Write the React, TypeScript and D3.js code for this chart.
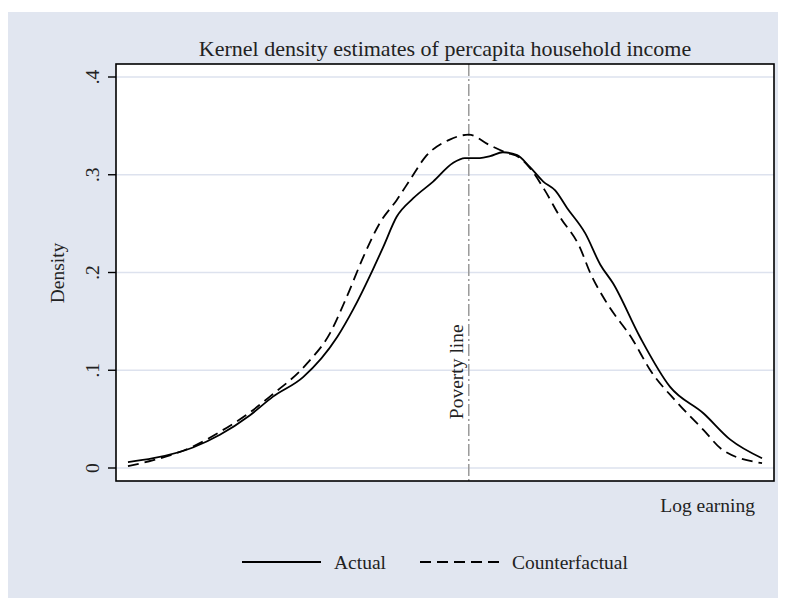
import React, { useEffect, useRef } from "react";
import * as d3 from "d3";

// log earning grid (x) and kernel density values
const actualX = [4.0, 4.32, 4.82, 5.16, 5.54, 5.83, 6.21, 6.64, 6.84, 7.09, 7.22, 7.39, 7.6, 7.85, 8.1, 8.25, 8.44, 8.57, 8.73, 8.91, 9.07, 9.24, 9.39, 9.54, 9.77, 9.96, 10.12, 10.46, 10.84, 11.26, 11.6, 12.0];
const actualY = [0.006, 0.010, 0.021, 0.034, 0.054, 0.073, 0.093, 0.134, 0.162, 0.203, 0.226, 0.257, 0.276, 0.293, 0.312, 0.317, 0.317, 0.319, 0.323, 0.320, 0.308, 0.293, 0.284, 0.266, 0.240, 0.208, 0.189, 0.134, 0.083, 0.056, 0.029, 0.010];

const counterX = [4.0, 4.32, 4.82, 5.16, 5.54, 5.79, 6.26, 6.55, 6.76, 6.97, 7.18, 7.39, 7.56, 7.75, 8.06, 8.3, 8.57, 8.76, 8.95, 9.07, 9.26, 9.45, 9.7, 9.83, 10.04, 10.37, 10.59, 10.93, 11.26, 11.51, 12.0];
const counterY = [0.002, 0.008, 0.022, 0.037, 0.057, 0.073, 0.107, 0.138, 0.175, 0.216, 0.251, 0.274, 0.295, 0.318, 0.336, 0.341, 0.330, 0.323, 0.317, 0.307, 0.284, 0.257, 0.226, 0.200, 0.169, 0.131, 0.100, 0.067, 0.039, 0.018, 0.005];

const yTicks = [0, 0.1, 0.2, 0.3, 0.4];
const yTickLabels = ["0", ".1", ".2", ".3", ".4"];
const povertyLine = 8.3;

const seriesNames = ["Actual", "Counterfactual"];

const FONT = "'Liberation Serif', 'Times New Roman', serif";

export default function App() {
  const ref = useRef<SVGSVGElement>(null);

  useEffect(() => {
    const svg = d3.select(ref.current);
    svg.selectAll("*").remove();

    const left = 116, right = 774, top = 64, bottom = 481;

    svg.append("rect")
      .attr("x", 8).attr("y", 12)
      .attr("width", 770).attr("height", 590)
      .attr("fill", "#e1e6f0");

    const x = d3.scaleLinear().domain([3.849, 12.151]).range([left, right]);
    const y = d3.scaleLinear().domain([0, 0.4]).range([468, 77]);

    svg.append("rect")
      .attr("x", left).attr("y", top)
      .attr("width", right - left).attr("height", bottom - top)
      .attr("fill", "#ffffff");

    // gridlines
    svg.append("g")
      .selectAll("line")
      .data(yTicks)
      .join("line")
      .attr("x1", left).attr("x2", right)
      .attr("y1", (d) => y(d)).attr("y2", (d) => y(d))
      .attr("stroke", "#dde2ee")
      .attr("stroke-width", 1.6);

    // poverty line
    svg.append("line")
      .attr("x1", x(povertyLine)).attr("x2", x(povertyLine))
      .attr("y1", top).attr("y2", bottom)
      .attr("stroke", "#9a9a9a")
      .attr("stroke-width", 1.5)
      .attr("stroke-dasharray", "12,3,2,3");

    svg.append("text")
      .attr("transform", `translate(${x(povertyLine) - 6},${y(0.05)}) rotate(-90)`)
      .attr("font-family", FONT)
      .attr("font-size", 19.5)
      .attr("fill", "#222")
      .text("Poverty line");

    const line = d3.line<[number, number]>()
      .x((d) => x(d[0]))
      .y((d) => y(d[1]))
      .curve(d3.curveMonotoneX);

    svg.append("path")
      .datum(d3.zip(actualX, actualY) as [number, number][])
      .attr("d", line)
      .attr("fill", "none")
      .attr("stroke", "#000")
      .attr("stroke-width", 1.8);

    svg.append("path")
      .datum(d3.zip(counterX, counterY) as [number, number][])
      .attr("d", line)
      .attr("fill", "none")
      .attr("stroke", "#000")
      .attr("stroke-width", 1.8)
      .attr("stroke-dasharray", "11,6");

    // plot border
    svg.append("rect")
      .attr("x", left).attr("y", top)
      .attr("width", right - left).attr("height", bottom - top)
      .attr("fill", "none")
      .attr("stroke", "#000")
      .attr("stroke-width", 1.6);

    // y axis ticks
    const yAxis = svg.append("g");
    yAxis.selectAll("line")
      .data(yTicks)
      .join("line")
      .attr("x1", 108).attr("x2", left)
      .attr("y1", (d) => y(d)).attr("y2", (d) => y(d))
      .attr("stroke", "#000")
      .attr("stroke-width", 1.4);
    yAxis.selectAll("text")
      .data(yTicks)
      .join("text")
      .attr("transform", (d) => `translate(99,${y(d)}) rotate(-90)`)
      .attr("text-anchor", "middle")
      .attr("font-family", FONT)
      .attr("font-size", 19.5)
      .attr("fill", "#222")
      .text((d, i) => yTickLabels[i]);

    svg.append("text")
      .attr("transform", `translate(64,273) rotate(-90)`)
      .attr("text-anchor", "middle")
      .attr("font-family", FONT)
      .attr("font-size", 19.5)
      .attr("fill", "#222")
      .text("Density");

    svg.append("text")
      .attr("x", 445).attr("y", 56)
      .attr("text-anchor", "middle")
      .attr("font-family", FONT)
      .attr("font-size", 22)
      .attr("fill", "#222")
      .text("Kernel density estimates of percapita household income");

    svg.append("text")
      .attr("x", 755).attr("y", 512)
      .attr("text-anchor", "end")
      .attr("font-family", FONT)
      .attr("font-size", 19.5)
      .attr("fill", "#222")
      .text("Log earning");

    // legend
    const legend = svg.append("g");
    const legendX = [242, 420];
    legend.selectAll("line")
      .data(seriesNames)
      .join("line")
      .attr("x1", (d, i) => legendX[i]).attr("x2", (d, i) => legendX[i] + 79)
      .attr("y1", 562).attr("y2", 562)
      .attr("stroke", "#000")
      .attr("stroke-width", 1.8)
      .attr("stroke-dasharray", (d, i) => (i === 1 ? "11,6" : null));
    legend.selectAll("text")
      .data(seriesNames)
      .join("text")
      .attr("x", (d, i) => legendX[i] + 92)
      .attr("y", 569)
      .attr("font-family", FONT)
      .attr("font-size", 19.5)
      .attr("fill", "#222")
      .text((d) => d);
  }, []);

  return (
    <svg
      ref={ref}
      width={787}
      height={598}
      style={{ position: "absolute", left: 0, top: 0, display: "block" }}
    />
  );
}
